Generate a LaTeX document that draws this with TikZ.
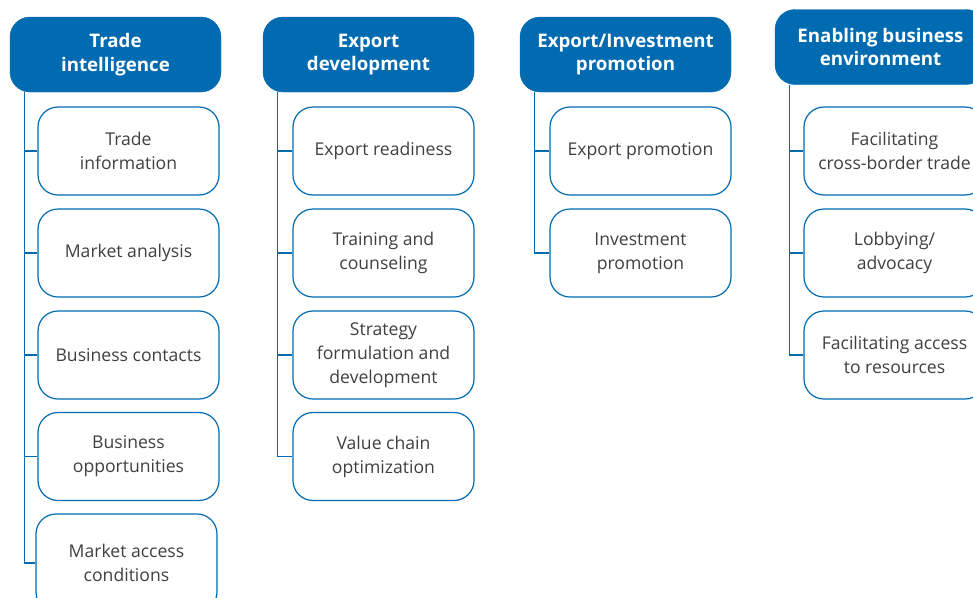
\documentclass[tikz,border=0pt]{standalone}
\usepackage{fontspec}
\setmainfont{Open Sans}
\definecolor{itcblue}{RGB}{0,107,176}
\definecolor{txtgray}{RGB}{64,64,64}
\tikzset{
  hdr/.style={draw=itcblue, fill=itcblue, rounded corners=20pt, minimum width=211pt, minimum height=75pt, inner sep=0pt, text=white, font=\fontsize{18.7}{23.5}\selectfont\bfseries, align=center},
  item/.style={draw=itcblue, line width=1.2pt, fill=white, rounded corners=20pt, minimum width=181pt, minimum height=88pt, inner sep=0pt, text=txtgray, font=\fontsize{17.6}{24}\selectfont, align=center},
  conn/.style={draw=itcblue, line width=1.1pt}
}
\begin{document}
\begin{tikzpicture}[x=1pt,y=-1pt]
\useasboundingbox (0,0) rectangle (973,597);
% headers
\node[hdr] (h1) at (115.5,54.5) {Trade\\intelligence};
\node[hdr] (h2) at (368.5,54.5) {Export\\development};
\node[hdr] (h3) at (625.5,54.5) {Export/Investment\\promotion};
\node[hdr] (h4) at (880.5,47) {Enabling business\\environment};
% column 1
\node[item] (c11) at (128.5,151) {Trade\\information};
\node[item] (c12) at (128.5,253) {Market analysis};
\node[item] (c13) at (128.5,355) {Business contacts};
\node[item] (c14) at (128.5,456.5) {Business\\opportunities};
\node[item, minimum height=98pt] (c15) at (126.5,563) {Market access\\conditions};
% column 2
\node[item] (c21) at (383.5,151) {Export readiness};
\node[item] (c22) at (383.5,253) {Training and\\counseling};
\node[item] (c23) at (383.5,355) {Strategy\\formulation and\\development};
\node[item] (c24) at (383.5,456.5) {Value chain\\optimization};
% column 3
\node[item] (c31) at (640.5,151) {Export promotion};
\node[item] (c32) at (640.5,253) {Investment\\promotion};
% column 4
\node[item] (c41) at (894.5,151) {Facilitating\\cross-border trade};
\node[item] (c42) at (894.5,253) {Lobbying/\\advocacy};
\node[item] (c43) at (894.5,355) {Facilitating access\\to resources};
% connectors
\foreach \h/\c in {h1/c11,h1/c12,h1/c13,h1/c14,h1/c15,h2/c21,h2/c22,h2/c23,h2/c24,h3/c31,h3/c32,h4/c41,h4/c42,h4/c43}{
  \draw[conn] ([xshift=15pt]\h.south west) |- (\c.west);
}
\end{tikzpicture}
\end{document}
